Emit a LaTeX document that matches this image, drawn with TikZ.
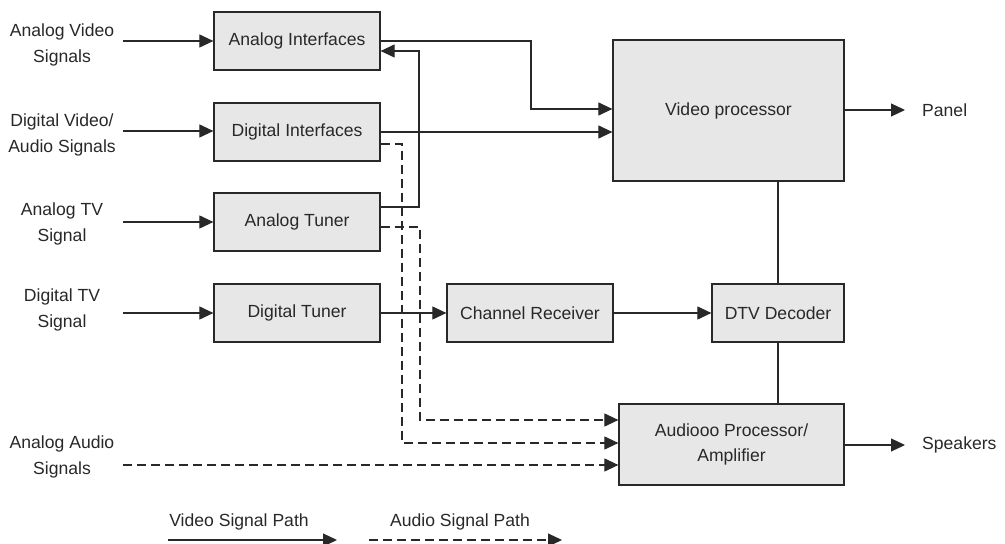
\documentclass[tikz,border=0pt]{standalone}
\usepackage{fontspec}
\setmainfont{Liberation Sans}
\usetikzlibrary{arrows.meta,calc}
\definecolor{boxgray}{RGB}{230,231,230}
\definecolor{linegray}{RGB}{40,40,40}

\begin{document}
\begin{tikzpicture}[x=0.2mm, y=-0.2mm,
	every node/.style={font=\fontsize{10}{14.5}\selectfont, text=linegray},
	blk/.style={draw=linegray, fill=boxgray, line width=0.7pt, minimum width=3.32cm, minimum height=1.16cm, inner sep=0pt},
	lbl/.style={align=center},
	vid/.style={draw=linegray, line width=0.6pt, -{Triangle[length=2.8mm,width=2.6mm]}},
	aud/.style={vid, dash pattern=on 1.8mm off 1mm},
	wire/.style={draw=linegray, line width=0.6pt}]
	
	\useasboundingbox (0,0) rectangle (1005,544);
	
	% Eingaenge
	\node[lbl] (lav) at (62,45) {Analog Video\\Signals};
	\node[lbl] (ldv) at (62,135) {Digital Video/\\Audio Signals};
	\node[lbl] (lat) at (62,224) {Analog TV\\Signal};
	\node[lbl] (ldt) at (62,310) {Digital TV\\Signal};
	\node[lbl] (laa) at (62,457) {Analog Audio\\Signals};
	\coordinate (in1) at (123,41);
	\coordinate (in2) at (123,131);
	\coordinate (in3) at (123,222);
	\coordinate (in4) at (123,313);
	\coordinate (in5) at (123,465);
	
	% Bloecke
	\node[blk] (ai) at (297,41) {Analog Interfaces};
	\node[blk] (di) at (297,132) {Digital Interfaces};
	\node[blk] (at) at (297,222) {Analog Tuner};
	\node[blk] (dt) at (297,313) {Digital Tuner};
	\node[blk] (cr) at (530,313) {Channel Receiver};
	\node[blk, minimum width=2.64cm] (dtv) at (778,313) {DTV Decoder};
	\node[blk, minimum width=4.62cm, minimum height=2.82cm] (vp) at (728.5,110.5) {Video processor};
	\node[blk, minimum width=4.5cm, minimum height=1.62cm, align=center] (ap) at (731.5,444.5) {Audiooo Processor/\\Amplifier};
	
	% Ausgaenge
	\node[anchor=west] (panel) at (916,110) {Panel};
	\node[anchor=west] (spk) at (916,445) {Speakers};
	
	% Videopfade
	\draw[vid] (in1) -- (ai.west |- in1);
	\draw[vid] (in2) -- (di.west |- in2);
	\draw[vid] (in3) -- (at.west |- in3);
	\draw[vid] (in4) -- (dt.west |- in4);
	\coordinate (k1) at (531,109);
	\draw[vid] (ai.east) -| (k1) -- (k1 -| vp.west);
	\draw[vid] (di.east) -- (di.east -| vp.west);
	\coordinate (k2) at (419,51);
	\draw[vid] ([yshift=3mm]at.east) -| (k2) -- (k2 -| ai.east);
	\draw[vid] (dt) -- (cr);
	\draw[vid] (cr) -- (dtv);
	\draw[wire] (vp.south -| dtv.north) -- (dtv.north);
	\draw[wire] (dtv.south) -- (dtv.south |- ap.north);
	\draw[vid] (vp.east |- panel) -- ([xshift=-2.2mm]panel.west);
	\draw[vid] (ap.east |- spk) -- ([xshift=-2.2mm]spk.west);
	
	% Audiopfade
	\coordinate (d1) at (402,443);
	\coordinate (d2) at (420,420);
	\draw[aud] ([yshift=-2.4mm]di.east) -| (d1) -- (d1 -| ap.west);
	\draw[aud] ([yshift=-1mm]at.east) -| (d2) -- (d2 -| ap.west);
	\draw[aud] (in5) -- (in5 -| ap.west);
	
	% Legende
	\node (lv) at (239,522) {Video Signal Path};
	\node (la) at (460,522) {Audio Signal Path};
	\coordinate (v1) at (168,540);
	\coordinate (v2) at (337,540);
	\coordinate (a1) at (369,540);
	\coordinate (a2) at (562,540);
	\draw[vid] (v1) -- (v2);
	\draw[aud] (a1) -- (a2);
	
\end{tikzpicture}
\end{document}
